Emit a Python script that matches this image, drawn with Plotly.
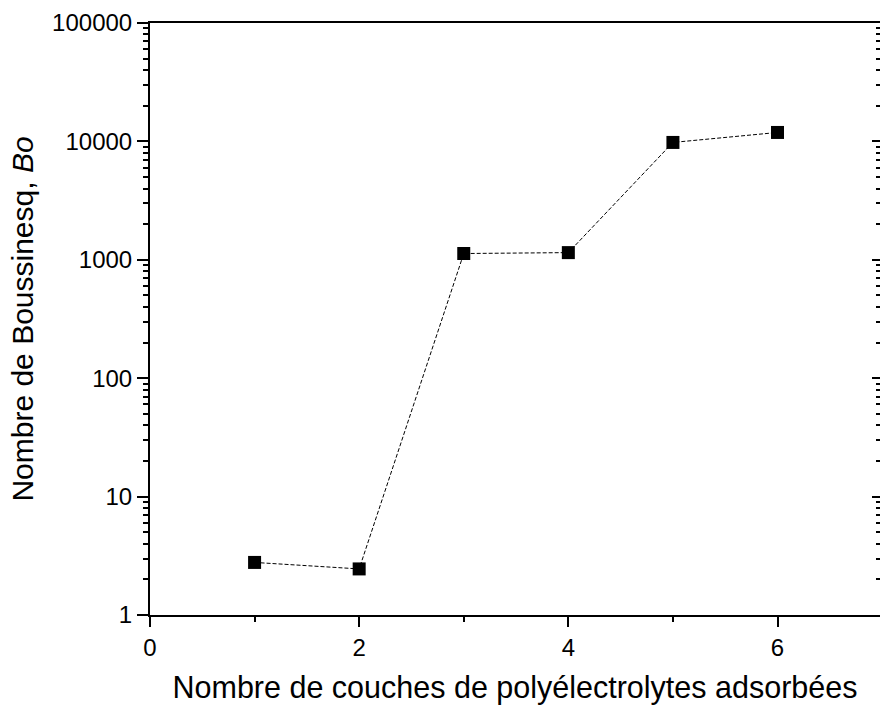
import plotly.graph_objects as go

layers = [1, 2, 3, 4, 5, 6]
bo = [2.78, 2.45, 1130, 1150, 9800, 11900]
ytick_vals = [1, 10, 100, 1000, 10000, 100000]
ytick_text = ["1", "10", "100", "1000", "10000", "100000"]
xtick_vals = [0, 2, 4, 6]

font = "Liberation Sans, Arial, sans-serif"

fig = go.Figure()
fig.add_trace(go.Scatter(
    x=layers, y=bo, mode="lines+markers",
    line=dict(color="black", width=1, dash="4px,2px"),
    marker=dict(symbol="square", size=13, color="black"),
    showlegend=False,
))
# invisible trace for right-side mirrored ticks
fig.add_trace(go.Scatter(x=layers, y=bo, yaxis="y2", mode="markers",
                         marker=dict(opacity=0), showlegend=False, hoverinfo="skip"))

fig.update_layout(
    width=880, height=706,
    margin=dict(l=150, r=0, t=23, b=91),
    paper_bgcolor="white", plot_bgcolor="white",
    font=dict(family=font, size=24, color="black"),
    xaxis=dict(
        range=[0, 6.98], tickvals=xtick_vals, ticks="outside", ticklen=10, tickwidth=2,
        tickcolor="black", showline=True, linecolor="black", linewidth=2, mirror=True,
        showgrid=False, zeroline=False,
        minor=dict(ticks="outside", ticklen=5, tickwidth=1.5, dtick=1, tickcolor="black", showgrid=False),
        title=dict(text="Nombre de couches de polyélectrolytes adsorbées", font=dict(size=30.5), standoff=17),
        tickfont=dict(size=24),
    ),
    yaxis=dict(
        type="log", range=[0, 5], tickvals=ytick_vals, ticktext=ytick_text,
        ticks="outside", ticklen=11, tickwidth=2, tickcolor="black",
        showline=True, linecolor="black", linewidth=2, mirror=False,
        showgrid=False, zeroline=False,
        minor=dict(ticks="outside", ticklen=5, tickwidth=1.5, dtick="D1", tickcolor="black", showgrid=False),
        title=dict(text="Nombre de Boussinesq, <i>Bo</i>", font=dict(size=30), standoff=10),
        tickfont=dict(size=24),
    ),
    yaxis2=dict(
        type="log", range=[0, 5], overlaying="y", side="right", tickvals=ytick_vals,
        showticklabels=False, ticks="inside", ticklen=8, tickwidth=2, tickcolor="black",
        showline=False, showgrid=False, zeroline=False,
        minor=dict(ticks="inside", ticklen=4, tickwidth=1.5, dtick="D1", tickcolor="black", showgrid=False),
    ),
)

fig.write_html("out.html", config={"displayModeBar": False},
               post_script="document.body.style.margin='0px';")
